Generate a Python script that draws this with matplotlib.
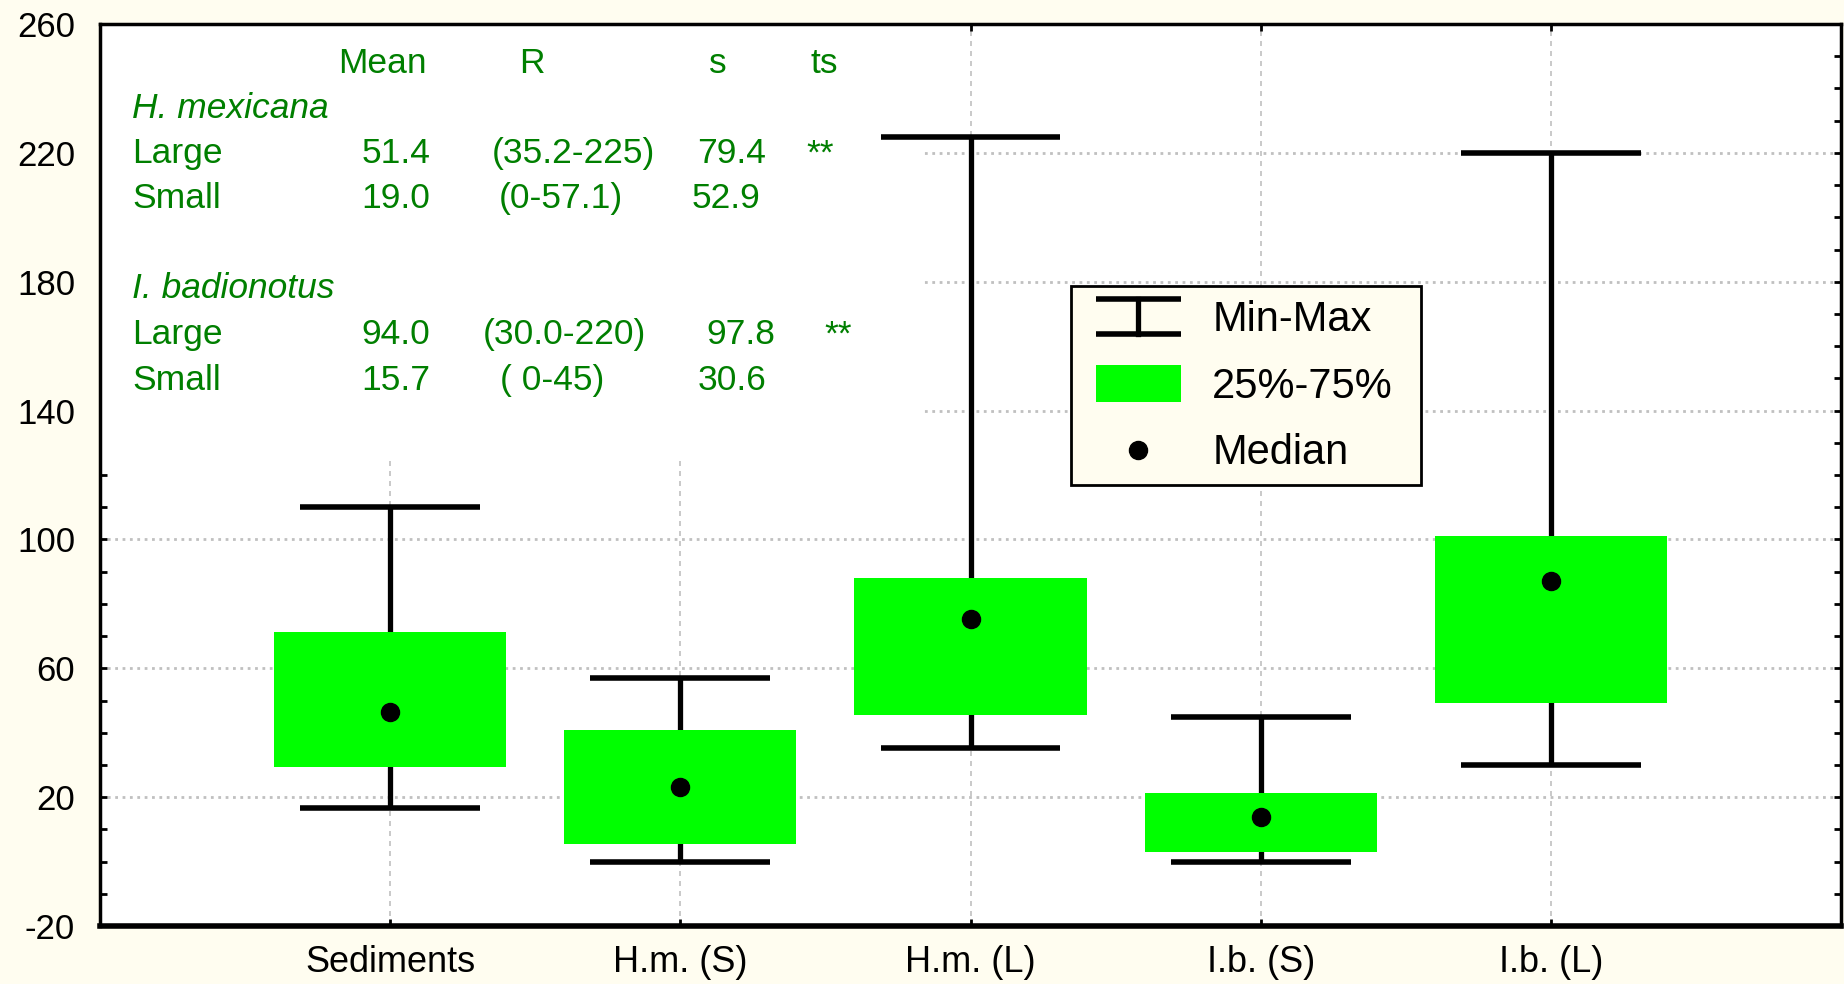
import matplotlib.pyplot as plt
from matplotlib.legend_handler import HandlerBase
from matplotlib.lines import Line2D
from matplotlib.patches import Patch, Rectangle

# box plot summary per group
groups = ['Sediments', 'H.m. (S)', 'H.m. (L)', 'I.b. (S)', 'I.b. (L)']
minimum = [16.7, 0.0, 35.2, 0.0, 30.0]
q25 = [29.5, 5.6, 45.6, 2.9, 49.2]
median = [46.5, 23.1, 75.2, 13.9, 87.2]
q75 = [71.4, 40.9, 88.0, 21.2, 101.2]
maximum = [110.0, 57.1, 225.0, 45.0, 220.0]

# summary table written inside the plot
header = ['Mean', 'R', 's', 'ts']
species = ['H. mexicana', 'I. badionotus']
sizes = ['Large', 'Small']
means = [['51.4', '19.0'], ['94.0', '15.7']]
ranges = [['(35.2-225)', '(0-57.1)'], ['(30.0-220)', '( 0-45)']]
sds = [['79.4', '52.9'], ['97.8', '30.6']]
ts = [['**', ''], ['**', '']]

bg = '#FFFDF0'
green_txt = '#007F00'
box_green = '#00FF00'
plt.rcParams['font.family'] = ['Liberation Sans', 'DejaVu Sans']
plt.rcParams['axes.unicode_minus'] = False


class LegendKey(HandlerBase):
    # draws the legend keys a little inset from the left of the handle box
    def __init__(self, kind, inset=9):
        super().__init__()
        self.kind = kind
        self.inset = inset

    def create_artists(self, legend, orig_handle, xdescent, ydescent,
                       width, height, fontsize, trans):
        x0, x1 = -xdescent + self.inset, width - xdescent
        y0, y1 = -ydescent, height - ydescent
        xm, ym = (x0 + x1) / 2, (y0 + y1) / 2
        if self.kind == 'range':
            arts = [Line2D([xm, xm], [y0 + 1, y1 - 1], color='k', lw=3.8),
                    Line2D([x0, x1], [y0 + 1, y0 + 1], color='k', lw=4, solid_capstyle='butt'),
                    Line2D([x0, x1], [y1 - 1, y1 - 1], color='k', lw=4, solid_capstyle='butt')]
        elif self.kind == 'box':
            arts = [Rectangle((x0, y0), x1 - x0, y1 - y0, facecolor=box_green, edgecolor='none')]
        else:
            arts = [Line2D([xm], [ym], marker='o', color='k', ls='none', ms=13)]
        for a in arts:
            a.set_transform(trans)
        return arts


fig = plt.figure(figsize=(18.44, 9.84), dpi=100, facecolor=bg)
ax = fig.add_axes([100 / 1844, 58 / 984, 1741 / 1844, 902 / 984])
ax.set_facecolor('white')

x = list(range(1, len(groups) + 1))
ax.vlines(x, minimum, maximum, color='k', lw=3.8, zorder=2)
ax.hlines(minimum, [i - 0.31 for i in x], [i + 0.31 for i in x], color='k', lw=4, zorder=2)
ax.hlines(maximum, [i - 0.31 for i in x], [i + 0.31 for i in x], color='k', lw=4, zorder=2)
ax.bar(x, [b - a for a, b in zip(q25, q75)], bottom=q25, width=0.8,
       color=box_green, edgecolor='none', zorder=3)
ax.plot(x, median, 'o', color='k', ms=13, zorder=4)

ax.set_xlim(0, 6)
ax.set_ylim(-20, 260)
ax.set_xticks(x)
ax.set_xticklabels(groups)
ax.set_yticks(range(-20, 261, 40))
ax.set_yticks(range(-20, 261, 10), minor=True)
ax.tick_params(axis='both', which='both', direction='in', top=True, right=True,
               length=5, width=2)
ax.tick_params(axis='y', which='major', pad=18, labelsize=25)
ax.tick_params(axis='x', which='major', pad=14, labelsize=26)

ax.set_axisbelow(True)
ax.grid(axis='y', which='major', color='#C0C0C0', linestyle=':', lw=2)
ax.grid(axis='x', which='major', color='#C0C0C0', linestyle=(0, (3, 3)), lw=1.2)
for s in ax.spines.values():
    s.set_linewidth(2.5)
ax.spines['bottom'].set_linewidth(4)

# white area behind the table hides the grid
ax.add_patch(Rectangle((0, 0.518), 0.473, 0.482, transform=ax.transAxes,
                       facecolor='white', edgecolor='none', zorder=1))

fs = 25.5
dy = -0.003
hx = [0.162, 0.248, 0.355, 0.416]
for lbl, xx in zip(header, hx):
    ax.text(xx, 0.959 + dy, lbl, transform=ax.transAxes, ha='center', va='center',
            color=green_txt, fontsize=fs)
sp_y = [0.909, 0.7095]
row_y = [[0.859, 0.809], [0.6585, 0.6075]]
rng_x = [[0.272, 0.265], [0.2665, 0.26]]
sd_x = [[0.363, 0.3596], [0.368, 0.363]]
ts_x = [0.4136, 0.424]
for k, sp in enumerate(species):
    ax.text(0.0184, sp_y[k] + dy, sp, transform=ax.transAxes, ha='left', va='center',
            color=green_txt, fontsize=fs, style='italic')
    for j, sz in enumerate(sizes):
        yy = row_y[k][j] + dy
        ax.text(0.0184, yy, sz, transform=ax.transAxes, ha='left', va='center',
                color=green_txt, fontsize=fs)
        ax.text(0.170, yy, means[k][j], transform=ax.transAxes, ha='center',
                va='center', color=green_txt, fontsize=fs)
        ax.text(rng_x[k][j], yy, ranges[k][j], transform=ax.transAxes, ha='center',
                va='center', color=green_txt, fontsize=fs)
        ax.text(sd_x[k][j], yy, sds[k][j], transform=ax.transAxes, ha='center',
                va='center', color=green_txt, fontsize=fs)
        if ts[k][j]:
            ax.text(ts_x[k], yy, ts[k][j], transform=ax.transAxes, ha='center',
                    va='center', color=green_txt, fontsize=fs)

minmax = Line2D([], [], color='k')
iqr = Patch(facecolor=box_green, edgecolor='none')
med = Line2D([], [], marker='o', color='k', ls='none', ms=13)
leg = ax.legend([minmax, iqr, med], ['Min-Max', '25%-75%', 'Median'],
                handler_map={minmax: LegendKey('range'), iqr: LegendKey('box'),
                             med: LegendKey('median')},
                loc='upper left', bbox_to_anchor=(0.558, 0.7095, 0.201, 0),
                mode='expand', borderaxespad=0,
                fontsize=30, handlelength=2.35, handleheight=1.0,
                labelspacing=0.6, handletextpad=0.75, borderpad=0.28,
                fancybox=False, framealpha=1, facecolor=bg, edgecolor='k')
leg.get_frame().set_linewidth(2)
leg.set_zorder(5)

fig.savefig('out.png', dpi=100, facecolor=bg)
